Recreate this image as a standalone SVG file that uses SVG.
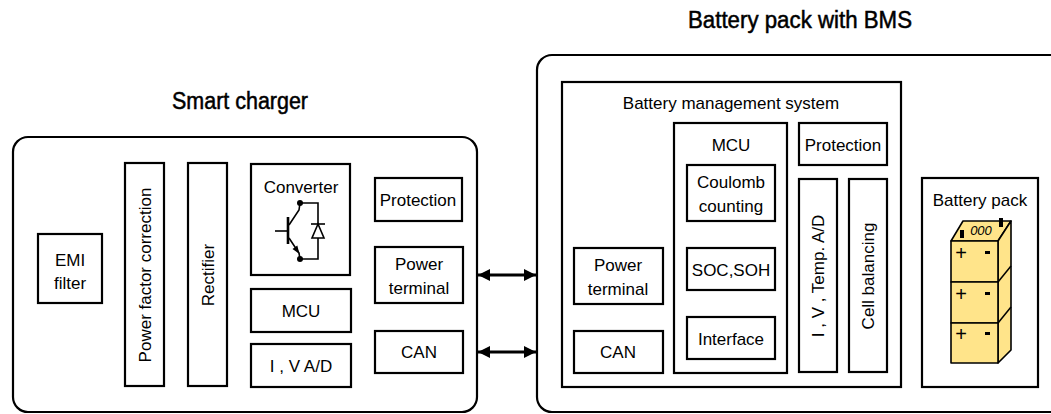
<svg xmlns="http://www.w3.org/2000/svg" width="1051" height="414" viewBox="0 0 1051 414">
  <style>
    text { font-family: "Liberation Sans", Arial, sans-serif; font-size: 17px; fill: #000; text-anchor: middle; dominant-baseline: central; }
    .title { font-size: 23px; stroke: #000; stroke-width: 0.5; }
    .outer { fill: #fff; stroke: #000; stroke-width: 2.2; }
    .box { fill: #fff; stroke: #000; stroke-width: 2.2; }
    .wire { fill: none; stroke: #000; stroke-width: 1.6; }
    .cell { fill: #FFE48A; stroke: #000; stroke-width: 1.6; stroke-linejoin: round; }
    .link { stroke: #000; stroke-width: 3; fill: none; marker-start: url(#head); marker-end: url(#head); }
    .plus { font-size: 20px; }
  </style>
  <defs>
    <marker id="head" viewBox="0 0 10 10" refX="10" refY="5" markerWidth="4" markerHeight="5" markerUnits="strokeWidth" orient="auto-start-reverse">
      <path d="M0,0 L10,5 L0,10 z" fill="#000"/>
    </marker>
  </defs>
  <rect width="1051" height="414" fill="#fff"/>

  <!-- Titles -->
  <text class="title" x="240" y="101" textLength="136" lengthAdjust="spacingAndGlyphs">Smart charger</text>
  <text class="title" x="800" y="20" textLength="224" lengthAdjust="spacingAndGlyphs">Battery pack with BMS</text>

  <!-- Smart charger -->
  <g id="charger">
    <rect class="outer" x="13" y="137" width="464" height="275" rx="15"/>
  </g>
  <g id="emi-filter">
    <rect class="box" x="38" y="234" width="64" height="69"/>
    <text x="70" y="260">EMI</text>
    <text x="70" y="283">filter</text>
  </g>
  <g id="pfc">
    <rect class="box" x="125" y="163" width="39" height="223"/>
    <text transform="translate(145,275) rotate(-90)">Power factor correction</text>
  </g>
  <g id="rectifier">
    <rect class="box" x="188" y="163" width="39" height="223"/>
    <text transform="translate(208,275) rotate(-90)">Rectifier</text>
  </g>
  <g id="converter">
    <rect class="box" x="251" y="164" width="99" height="111"/>
    <text x="301" y="187">Converter</text>
    <!-- IGBT with anti-parallel diode -->
    <line class="wire" x1="275" y1="231" x2="287" y2="231"/>
    <line x1="288" y1="217" x2="288" y2="244" stroke="#000" stroke-width="2.6"/>
    <polyline class="wire" points="289,225 299,210 300,203"/>
    <polyline class="wire" points="289,238 299,253 300,259"/>
    <polygon points="299.5,254 292.5,249.1 297.3,245.5" fill="#000"/>
    <polyline class="wire" points="300,203 318,203 318,259 300,259"/>
    <polygon points="318,224 312,238 324,238" fill="#fff" stroke="#000" stroke-width="1.6" stroke-linejoin="miter"/>
    <line class="wire" x1="311" y1="224" x2="325" y2="224"/>
    <circle cx="300" cy="203" r="3" fill="#000"/>
    <circle cx="300" cy="259" r="3" fill="#000"/>
  </g>
  <g id="charger-mcu">
    <rect class="box" x="251" y="289" width="100" height="43"/>
    <text x="301" y="311">MCU</text>
  </g>
  <g id="charger-ad">
    <rect class="box" x="251" y="344" width="100" height="43"/>
    <text x="301" y="366">I , V A/D</text>
  </g>
  <g id="charger-protection">
    <rect class="box" x="375" y="178" width="87" height="43"/>
    <text x="418" y="200">Protection</text>
  </g>
  <g id="charger-power-terminal">
    <rect class="box" x="375" y="247" width="88" height="56"/>
    <text x="419" y="264">Power</text>
    <text x="419" y="288">terminal</text>
  </g>
  <g id="charger-can">
    <rect class="box" x="375" y="331" width="88" height="42"/>
    <text x="419" y="352">CAN</text>
  </g>

  <!-- Battery pack with BMS -->
  <g id="battery-system">
    <path class="outer" d="M1070,55 H552 A15,15 0 0 0 537,70 V397 A15,15 0 0 0 552,412 H1070"/>
  </g>
  <g id="bms">
    <rect class="box" x="562" y="82" width="339" height="305"/>
    <text x="731" y="103">Battery management system</text>
  </g>
  <g id="bms-mcu">
    <rect class="box" x="674" y="123" width="113" height="250"/>
    <text x="731" y="145">MCU</text>
  </g>
  <g id="coulomb-counting">
    <rect class="box" x="687" y="165" width="88" height="56"/>
    <text x="731" y="182">Coulomb</text>
    <text x="731" y="206">counting</text>
  </g>
  <g id="soc-soh">
    <rect class="box" x="687" y="248" width="88" height="42"/>
    <text x="731" y="270">SOC,SOH</text>
  </g>
  <g id="interface">
    <rect class="box" x="687" y="317" width="88" height="42"/>
    <text x="731" y="339">Interface</text>
  </g>
  <g id="bms-protection">
    <rect class="box" x="799" y="123" width="88" height="42"/>
    <text x="843" y="145">Protection</text>
  </g>
  <g id="bms-ad">
    <rect class="box" x="799" y="179" width="38" height="193"/>
    <text transform="translate(818,276) rotate(-90)">I , V , Temp. A/D</text>
  </g>
  <g id="cell-balancing">
    <rect class="box" x="849" y="179" width="38" height="193"/>
    <text transform="translate(868,276) rotate(-90)">Cell balancing</text>
  </g>
  <g id="bms-power-terminal">
    <rect class="box" x="574" y="248" width="89" height="56"/>
    <text x="618" y="265">Power</text>
    <text x="618" y="289">terminal</text>
  </g>
  <g id="bms-can">
    <rect class="box" x="574" y="331" width="89" height="42"/>
    <text x="618" y="352">CAN</text>
  </g>
  <g id="battery-pack">
    <rect class="box" x="922" y="178" width="116" height="209"/>
    <text x="980" y="200">Battery pack</text>
    <!-- stacked cells -->
    <polygon class="cell" points="951,241 963,221 1011,221 998,241"/>
    <polygon class="cell" points="998,241 1011,221 1011,350 998,363"/>
    <rect class="cell" x="951" y="241" width="47" height="41"/>
    <rect class="cell" x="951" y="282" width="47" height="41"/>
    <rect class="cell" x="951" y="323" width="47" height="40"/>
    <line class="wire" x1="998" y1="282" x2="1011" y2="266"/>
    <line class="wire" x1="998" y1="323" x2="1011" y2="307"/>
    <rect x="960" y="230" width="4" height="8" fill="#000"/>
    <rect x="999" y="218" width="4" height="9" fill="#000"/>
    <text x="981" y="230" style="font-size:13px;font-style:italic">000</text>
    <text class="plus" x="961" y="253">+</text>
    <text class="plus" x="961" y="294">+</text>
    <text class="plus" x="961" y="334">+</text>
    <rect x="985" y="251" width="5" height="3" fill="#000"/>
    <rect x="985" y="292" width="5" height="3" fill="#000"/>
    <rect x="985" y="332" width="5" height="3" fill="#000"/>
  </g>

  <!-- Connectors -->
  <g id="connectors">
    <line class="link" x1="478" y1="275" x2="536" y2="275"/>
    <line class="link" x1="478" y1="352" x2="536" y2="352"/>
  </g>
</svg>
